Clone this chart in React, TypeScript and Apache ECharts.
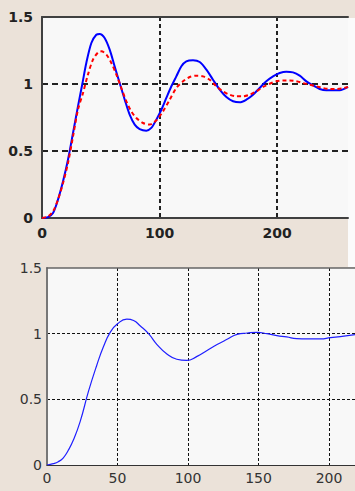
import React, { useEffect, useRef } from "react";
import * as echarts from "echarts";

// Top chart: two damped step responses
const topBlueT = [0, 5.1, 9.4, 13.6, 17.9, 22.1, 26.4, 30.6, 34.3, 37.7, 42, 46.2, 49, 53.3, 57.6, 61.8, 66.1, 70.4, 74.6, 78.9, 83.1, 88.8, 93, 97.3, 101.6, 105.8, 110.1, 114.3, 118.6, 122.8, 128.5, 134.2, 139.9, 145.5, 151.2, 156.9, 162.6, 168.2, 173.9, 179.6, 185.2, 190.9, 196.6, 202.3, 207.9, 213.6, 219.3, 225, 230.6, 236.3, 242, 247.7, 253.3, 260.4];
const topBlueY = [0, 0.007, 0.037, 0.137, 0.274, 0.435, 0.634, 0.833, 1.0, 1.157, 1.306, 1.368, 1.373, 1.343, 1.256, 1.132, 1.007, 0.883, 0.771, 0.697, 0.664, 0.652, 0.672, 0.734, 0.808, 0.896, 0.983, 1.057, 1.132, 1.169, 1.177, 1.164, 1.107, 1.032, 0.958, 0.903, 0.871, 0.863, 0.883, 0.92, 0.97, 1.02, 1.057, 1.082, 1.092, 1.087, 1.062, 1.02, 0.99, 0.963, 0.953, 0.953, 0.953, 0.978];
const topRedT = [0, 5.1, 9.4, 13.6, 17.9, 22.1, 26.4, 30.6, 34.9, 39.1, 43.4, 47.7, 50.5, 54.8, 59, 63.3, 67.5, 71.8, 76, 80.3, 86, 91.6, 97.3, 103, 108.7, 114.3, 120, 125.7, 131.3, 137, 142.7, 148.4, 154, 159.7, 165.4, 171.1, 176.7, 182.4, 188.1, 193.8, 199.4, 205.1, 210.8, 216.5, 222.1, 227.8, 233.5, 239.1, 244.8, 250.5, 256.2, 260.4];
const topRedY = [0, 0.012, 0.05, 0.137, 0.261, 0.41, 0.609, 0.808, 0.933, 1.07, 1.182, 1.236, 1.244, 1.219, 1.157, 1.07, 0.97, 0.871, 0.796, 0.746, 0.709, 0.697, 0.729, 0.796, 0.883, 0.97, 1.02, 1.052, 1.062, 1.057, 1.032, 0.983, 0.945, 0.92, 0.908, 0.908, 0.92, 0.945, 0.978, 1.002, 1.02, 1.027, 1.027, 1.02, 1.007, 0.995, 0.983, 0.97, 0.963, 0.963, 0.968, 0.978];

// Bottom chart: single step response
const botT = [0, 4.5, 8, 11.6, 15, 18.7, 23.5, 29.4, 35.3, 40, 44.8, 50, 56.6, 61.4, 66, 72, 78, 85, 92, 99, 106.4, 113.5, 120.6, 127.7, 134.8, 142, 149, 156, 163, 170, 177, 184.6, 194, 201, 208, 218.4];
const botY = [0, 0.01, 0.025, 0.055, 0.11, 0.19, 0.33, 0.56, 0.76, 0.9, 1.01, 1.075, 1.11, 1.1, 1.06, 1.0, 0.917, 0.845, 0.805, 0.796, 0.827, 0.872, 0.917, 0.957, 0.995, 1.005, 1.01, 1.0, 0.985, 0.975, 0.962, 0.96, 0.96, 0.97, 0.978, 0.992];

const topXTicks = [0, 100, 200];
const botXTicks = [0, 50, 100, 150, 200];
const yTicks = [0, 0.5, 1, 1.5];

const zip = (xs: number[], ys: number[]) => xs.map((x, i) => [x, ys[i]]);

export default function App() {
  const ref = useRef<HTMLDivElement>(null);
  useEffect(() => {
    if (!ref.current) return;
    const chart = echarts.init(ref.current, null, { renderer: "svg" });
    const topFont = { fontFamily: "DejaVu Sans, sans-serif", fontSize: 14, fontWeight: "bold" as const, color: "#222" };
    const botFont = { fontFamily: "DejaVu Sans, sans-serif", fontSize: 14, color: "#333" };
    const topMax = 260.4;
    const botMax = 218.4;
    chart.setOption({
      animation: false,
      backgroundColor: "#ebe2d9",
      grid: [
        { left: 42, top: 17, width: 306, height: 201, show: true, backgroundColor: "#f8f8f8", borderWidth: 0 },
        { left: 47, top: 268, width: 308, height: 197, show: true, backgroundColor: "#f8f8f8", borderWidth: 0 },
      ],
      xAxis: [
        {
          type: "value", gridIndex: 0, min: 0, max: topMax, interval: 100,
          axisLine: { show: true, onZero: false, lineStyle: { color: "#404040", width: 2 } },
          axisTick: { show: false },
          axisLabel: { ...topFont, margin: 8, showMaxLabel: false, formatter: (v: number) => (topXTicks.includes(v) ? String(v) : "") },
          splitLine: { show: true, showMinLine: false, showMaxLine: false, lineStyle: { color: "#222", width: 2, type: [4, 3] } },
        },
        {
          type: "value", gridIndex: 1, min: 0, max: botMax, interval: 50,
          axisLine: { show: true, onZero: false, lineStyle: { color: "#333", width: 1 } },
          axisTick: { show: false },
          axisLabel: { ...botFont, margin: 6, showMaxLabel: false, formatter: (v: number) => (botXTicks.includes(v) ? String(v) : "") },
          splitLine: { show: true, showMinLine: false, showMaxLine: false, lineStyle: { color: "#111", width: 1, type: [3, 2] } },
        },
        {
          type: "value", gridIndex: 0, position: "top", min: 0, max: topMax,
          axisLine: { show: true, onZero: false, lineStyle: { color: "#404040", width: 2 } },
          axisTick: { show: false }, axisLabel: { show: false }, splitLine: { show: false },
        },
        {
          type: "value", gridIndex: 1, position: "top", min: 0, max: botMax,
          axisLine: { show: true, onZero: false, lineStyle: { color: "#666", width: 1.5 } },
          axisTick: { show: false }, axisLabel: { show: false }, splitLine: { show: false },
        },
      ],
      yAxis: [
        {
          type: "value", gridIndex: 0, min: 0, max: 1.5, interval: 0.5,
          axisLine: { show: true, onZero: false, lineStyle: { color: "#404040", width: 2 } },
          axisTick: { show: false },
          axisLabel: { ...topFont, margin: 9, formatter: (v: number) => (yTicks.includes(v) ? String(v) : "") },
          splitLine: { show: true, showMinLine: false, showMaxLine: false, lineStyle: { color: "#222", width: 2, type: [6, 4] } },
        },
        {
          type: "value", gridIndex: 1, min: 0, max: 1.5, interval: 0.5,
          axisLine: { show: true, onZero: false, lineStyle: { color: "#777", width: 2 } },
          axisTick: { show: false },
          axisLabel: { ...botFont, margin: 5, formatter: (v: number) => (yTicks.includes(v) ? String(v) : "") },
          splitLine: { show: true, showMinLine: false, showMaxLine: false, lineStyle: { color: "#111", width: 1, type: [3, 2] } },
        },
      ],
      series: [
        {
          type: "line", xAxisIndex: 0, yAxisIndex: 0, data: zip(topBlueT, topBlueY),
          showSymbol: false, smooth: 0.3, lineStyle: { color: "#0000ff", width: 2 }, z: 3,
        },
        {
          type: "line", xAxisIndex: 0, yAxisIndex: 0, data: zip(topRedT, topRedY),
          showSymbol: false, smooth: 0.3, lineStyle: { color: "#ff0000", width: 2, type: [4, 3] }, z: 4,
        },
        {
          type: "line", xAxisIndex: 1, yAxisIndex: 1, data: zip(botT, botY),
          showSymbol: false, smooth: 0.5, lineStyle: { color: "#1f1fff", width: 1.2 }, z: 3,
        },
      ],
      graphic: [
        { type: "rect", shape: { x: 348, y: 18, width: 7, height: 249 }, style: { fill: "#fbfbfb" }, silent: true },
      ],
    });
    return () => chart.dispose();
  }, []);
  return <div ref={ref} style={{ position: "fixed", left: 0, top: 0, width: 355, height: 491 }} />;
}
